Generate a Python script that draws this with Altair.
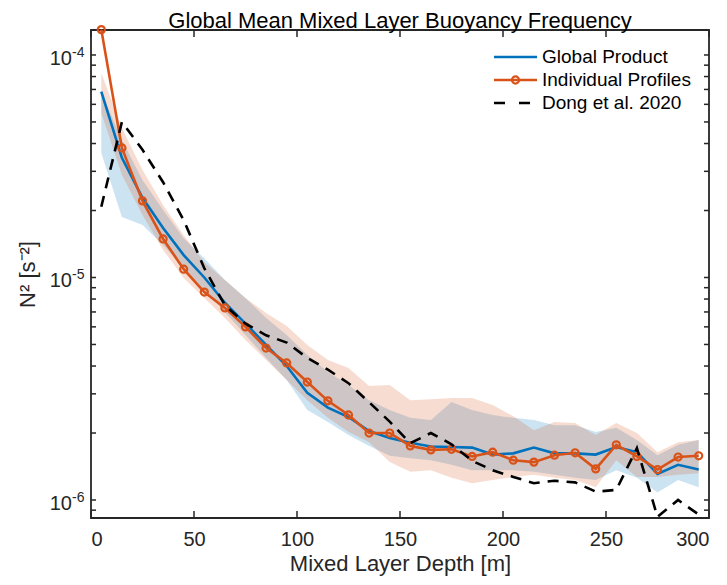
import altair as alt
import pandas as pd

depth = [5, 15, 25, 35, 45, 55, 65, 75, 85, 95, 105, 115, 125, 135, 145,
         155, 165, 175, 185, 195, 205, 215, 225, 235, 245, 255, 265, 275, 285, 295]

global_product = [6.84e-5, 3.45e-5, 2.28e-5, 1.67e-5, 1.26e-5, 1.0e-5, 7.7e-6, 6.2e-6, 4.98e-6, 4.0e-6,
                  3.03e-6, 2.6e-6, 2.36e-6, 2.04e-6, 1.9e-6, 1.81e-6, 1.74e-6, 1.73e-6, 1.72e-6, 1.60e-6,
                  1.62e-6, 1.72e-6, 1.62e-6, 1.62e-6, 1.60e-6, 1.73e-6, 1.64e-6, 1.31e-6, 1.44e-6, 1.37e-6]
global_lo = [3.63e-5, 1.87e-5, 1.72e-5, 1.40e-5, 1.10e-5, 8.78e-6, 7.00e-6, 5.51e-6, 4.35e-6, 3.46e-6,
             2.54e-6, 2.24e-6, 1.96e-6, 1.75e-6, 1.58e-6, 1.54e-6, 1.51e-6, 1.44e-6, 1.36e-6, 1.36e-6,
             1.36e-6, 1.34e-6, 1.30e-6, 1.26e-6, 1.23e-6, 1.36e-6, 1.26e-6, 1.08e-6, 1.23e-6, 1.14e-6]
global_hi = [6.82e-5, 4.15e-5, 2.74e-5, 2.01e-5, 1.50e-5, 1.22e-5, 9.75e-6, 8.09e-6, 6.58e-6, 5.51e-6,
             4.48e-6, 3.76e-6, 3.29e-6, 2.81e-6, 2.54e-6, 2.34e-6, 2.29e-6, 2.76e-6, 2.54e-6, 2.41e-6,
             2.34e-6, 2.29e-6, 2.17e-6, 2.17e-6, 2.02e-6, 2.11e-6, 1.86e-6, 1.59e-6, 1.77e-6, 1.86e-6]

individual = [1.3e-4, 3.82e-5, 2.21e-5, 1.49e-5, 1.09e-5, 8.6e-6, 7.3e-6, 6.0e-6, 4.82e-6, 4.13e-6,
              3.39e-6, 2.79e-6, 2.41e-6, 2.0e-6, 2.0e-6, 1.75e-6, 1.68e-6, 1.69e-6, 1.57e-6, 1.64e-6,
              1.51e-6, 1.48e-6, 1.59e-6, 1.63e-6, 1.38e-6, 1.77e-6, 1.57e-6, 1.37e-6, 1.56e-6, 1.58e-6]
individual_lo = [5.48e-5, 2.89e-5, 1.91e-5, 1.33e-5, 9.95e-6, 8.09e-6, 6.58e-6, 5.24e-6, 4.26e-6, 3.46e-6,
                 2.81e-6, 2.34e-6, 2.02e-6, 1.82e-6, 1.48e-6, 1.34e-6, 1.36e-6, 1.26e-6, 1.19e-6, 1.23e-6,
                 1.27e-6, 1.30e-6, 1.26e-6, 1.23e-6, 1.14e-6, 1.51e-6, 1.27e-6, 1.27e-6, 1.30e-6, 1.32e-6]
individual_hi = [8.30e-5, 4.70e-5, 3.04e-5, 2.12e-5, 1.55e-5, 1.17e-5, 9.75e-6, 8.09e-6, 6.92e-6, 6.05e-6,
                 4.97e-6, 4.26e-6, 3.92e-6, 3.25e-6, 3.29e-6, 2.81e-6, 2.84e-6, 2.87e-6, 2.87e-6, 2.67e-6,
                 2.38e-6, 2.06e-6, 2.24e-6, 2.22e-6, 1.96e-6, 2.22e-6, 2.00e-6, 1.64e-6, 1.82e-6, 1.86e-6]

dong2020 = [2.08e-5, 5.0e-5, 3.75e-5, 2.68e-5, 1.81e-5, 1.1e-5, 7.5e-6, 6.2e-6, 5.5e-6, 5.1e-6,
            4.35e-6, 3.85e-6, 3.35e-6, 2.75e-6, 2.25e-6, 1.8e-6, 2.0e-6, 1.78e-6, 1.5e-6, 1.36e-6,
            1.27e-6, 1.19e-6, 1.22e-6, 1.2e-6, 1.09e-6, 1.11e-6, 1.71e-6, 8.4e-7, 1.0e-6, 8.6e-7]

x_ticks = [0, 50, 100, 150, 200, 250, 300]
y_major = [1e-6, 1e-5, 1e-4]
y_exponents = ["-6", "-5", "-4"]
y_minor = [9e-7, 2e-6, 3e-6, 4e-6, 5e-6, 6e-6, 7e-6, 8e-6, 9e-6,
           2e-5, 3e-5, 4e-5, 5e-5, 6e-5, 7e-5, 8e-5, 9e-5]

title_text = ["Global Mean Mixed Layer Buoyancy Frequency"]
legend_labels = ["Global Product", "Individual Profiles", "Dong et al. 2020"]

BLUE = "#0072BD"
ORANGE = "#D95319"
INK = "#262626"
FONT = "Liberation Sans"
W, H = 618, 488

df = pd.DataFrame({
    "depth": depth, "gp": global_product, "gp_lo": global_lo, "gp_hi": global_hi,
    "ind": individual, "ind_lo": individual_lo, "ind_hi": individual_hi, "dong": dong2020,
})

xs = alt.Scale(domain=[0, 300], nice=False, zero=False)
ys = alt.Scale(type="log", domain=[8.3e-7, 1.295e-4], nice=False)

x_axis = alt.Axis(values=x_ticks, ticks=False, domain=False, grid=False, labelFontSize=20,
                  labelFont=FONT, labelColor=INK, labelPadding=11, title="Mixed Layer Depth [m]",
                  titleFontSize=22, titleFont=FONT, titleColor=INK, titleFontWeight="normal",
                  titlePadding=4)
y_axis = alt.Axis(labels=False, ticks=False, domain=False, grid=False, title="N² [s⁻²]",
                  titleFontSize=22, titleFont=FONT, titleColor=INK, titleFontWeight="normal",
                  titlePadding=52)


def X(field):
    return alt.X(field, type="quantitative", scale=xs, axis=x_axis)


def Y(field):
    return alt.Y(field, type="quantitative", scale=ys, axis=y_axis)


base = alt.Chart(df)

band_gp = base.mark_area(color=BLUE, opacity=0.2).encode(x=X("depth"), y=Y("gp_lo"), y2="gp_hi")
band_ind = base.mark_area(color=ORANGE, opacity=0.2).encode(x=X("depth"), y=Y("ind_lo"), y2="ind_hi")
line_gp = base.mark_line(color=BLUE, strokeWidth=2.6).encode(x=X("depth"), y=Y("gp"))
line_ind = base.mark_line(color=ORANGE, strokeWidth=2.6).encode(x=X("depth"), y=Y("ind"))
pts_ind = base.mark_point(shape="circle", filled=False, color=ORANGE, size=50,
                          strokeWidth=2.2, opacity=1).encode(x=X("depth"), y=Y("ind"))
line_dong = base.mark_line(color="#000000", strokeWidth=2.6, strokeDash=[11, 8]).encode(
    x=X("depth"), y=Y("dong"))

# inward ticks
xt = alt.Chart(pd.DataFrame({"t": x_ticks}))
xt_bot = xt.mark_rule(color=INK, strokeWidth=1.5).encode(x=X("t"), y=alt.value(H), y2=alt.value(H - 7))
xt_top = xt.mark_rule(color=INK, strokeWidth=1.5).encode(x=X("t"), y=alt.value(0), y2=alt.value(7))

yt_all = alt.Chart(pd.DataFrame({"v": y_major + y_minor}))
yt_left = yt_all.mark_rule(color=INK, strokeWidth=1.5).encode(y=Y("v"), x=alt.value(0), x2=alt.value(5))
yt_right = yt_all.mark_rule(color=INK, strokeWidth=1.5).encode(y=Y("v"), x=alt.value(W - 5), x2=alt.value(W))

ylab = alt.Chart(pd.DataFrame({"v": y_major, "e": y_exponents, "b": ["10"] * 3}))
ylab_base = ylab.mark_text(align="right", baseline="alphabetic", dy=10, fontSize=20, font=FONT,
                           color=INK).encode(y=Y("v"), x=alt.value(-19), text="b:N")
ylab_exp = ylab.mark_text(align="left", baseline="alphabetic", dy=2, fontSize=14, font=FONT,
                          color=INK).encode(y=Y("v"), x=alt.value(-19), text="e:N")

# title as text
title_mark = alt.Chart(pd.DataFrame({"t": title_text})).mark_text(
    align="center", baseline="alphabetic", fontSize=22, font=FONT, color="#000000").encode(
    x=alt.value(W / 2), y=alt.value(-2), text="t:N")

# legend
one = pd.DataFrame({"k": [0]})
leg_x0, leg_x1, leg_tx = 403, 446, 451
leg_y = [27, 50, 73]
leg = []
leg.append(alt.Chart(one).mark_rule(color=BLUE, strokeWidth=2.6).encode(
    x=alt.value(leg_x0), x2=alt.value(leg_x1), y=alt.value(leg_y[0])))
leg.append(alt.Chart(one).mark_rule(color=ORANGE, strokeWidth=2.6).encode(
    x=alt.value(leg_x0), x2=alt.value(leg_x1), y=alt.value(leg_y[1])))
leg.append(alt.Chart(one).mark_point(shape="circle", filled=False, color=ORANGE, size=50,
                                     strokeWidth=2.2, opacity=1).encode(
    x=alt.value((leg_x0 + leg_x1) / 2), y=alt.value(leg_y[1])))
leg.append(alt.Chart(one).mark_rule(color="#000000", strokeWidth=2.6, strokeDash=[11, 14]).encode(
    x=alt.value(leg_x0), x2=alt.value(leg_x1 + 2), y=alt.value(leg_y[2])))
for i, lab in enumerate(legend_labels):
    leg.append(alt.Chart(pd.DataFrame({"l": [lab]})).mark_text(
        align="left", baseline="middle", fontSize=19, font=FONT, color="#000000").encode(
        x=alt.value(leg_tx), y=alt.value(leg_y[i]), text="l:N"))

chart = alt.layer(
    band_gp, band_ind, line_gp, line_ind, pts_ind, line_dong,
    xt_bot, xt_top, yt_left, yt_right, ylab_base, ylab_exp, title_mark, *leg
).properties(
    width=W, height=H,
    padding={"left": 83, "top": 22, "right": 10, "bottom": 66},
    autosize=alt.AutoSizeParams(type="none"),
).configure_view(stroke=INK, strokeWidth=1.8)

chart.save("out.html", embed_options={"renderer": "svg", "actions": False})
